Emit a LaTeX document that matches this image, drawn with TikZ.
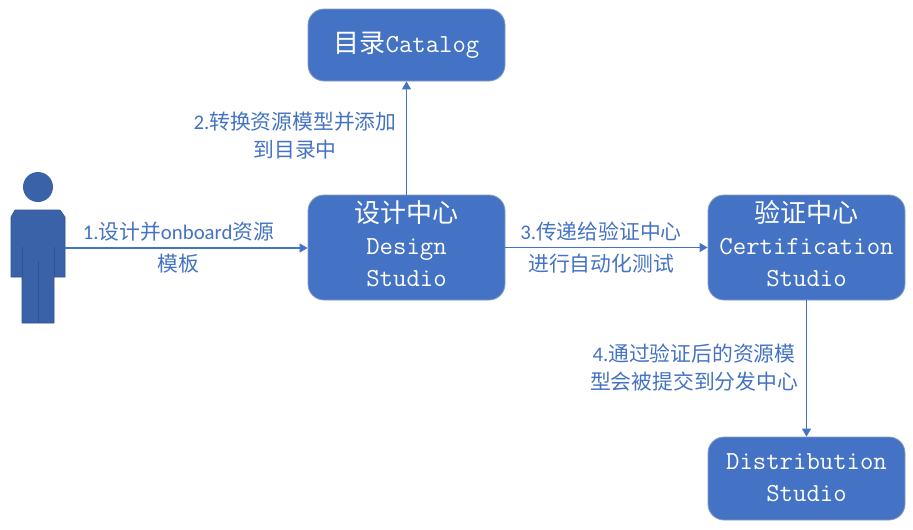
\documentclass[tikz,border=0pt]{standalone}
\usepackage{fontspec}
\setmainfont{Carlito}
\newfontfamily\cjk{Noto Sans CJK SC}
\usetikzlibrary{arrows.meta, positioning}
\definecolor{boxblue}{HTML}{4472C4}
\definecolor{userblue}{HTML}{3A62A9}
\definecolor{userline}{HTML}{2F528F}
\newcommand{\zh}[1]{{\cjk #1}}
\tikzset{
  studio/.style={draw=boxblue!45!lightgray, line width=0.8pt, fill=boxblue, rounded corners=16pt,
    minimum width=197pt, text=white, align=center,
    font=\fontsize{26}{32}\selectfont\ttfamily},
  note/.style={text=boxblue, align=center, inner sep=0pt, font=\fontsize{20.8}{28}\selectfont},
  flow/.style={-{Triangle[length=8pt,width=9pt]}, color=boxblue, line width=1.2pt},
  person/.style={fill=userblue, draw=userline, line width=0.6pt}
}
\begin{document}
\begin{tikzpicture}[x=1pt,y=-1pt]
  \useasboundingbox (0,0) rectangle (913,530);
  % the user on the left
  \draw[person] (15,210) -- (60,210) -- (65,217) -- (65,277) -- (54,277) -- (54,323)
     -- (22,323) -- (22,277) -- (11,277) -- (11,217) -- cycle;
  \draw[userline, line width=0.6pt] (22,247) -- (22,277);
  \draw[userline, line width=0.6pt] (54,247) -- (54,277);
  \draw[userline, line width=0.6pt] (38,261) -- (38,323);
  \fill[userblue] (38,187) circle (15);
  \coordinate (user) at (65,248);

  \node[studio, minimum height=72pt] (catalog) at (406.5,45) {\zh{目录}Catalog};
  \node[studio, minimum height=105pt, text depth=8pt] (design) at (406.5,247.5) {\zh{设计中心}\\Design\\Studio};
  \node[studio, minimum height=105pt, text depth=8pt] (cert) at (806.5,247.5) {\zh{验证中心}\\Certification\\Studio};
  \node[studio, minimum height=83pt, text depth=2pt] (dist) at (806.5,478.5) {Distribution\\Studio};

  \draw[flow] (user) -- (design.west |- user);
  \draw[flow] (design.north) -- (catalog.south);
  \draw[flow] (design.east) -- (cert.west);
  \draw[flow] (cert.south) -- (dist.north);

  \node[note, font=\fontsize{20.8}{32}\selectfont] (step1) at (178.5,248) {1.\zh{设计并}onboard\zh{资源}\\\zh{模板}};
  \node[note] (step2) at (295,136) {2.\zh{转换资源模型并添加}\\\zh{到目录中}};
  \node[note, font=\fontsize{20.8}{32}\selectfont] (step3) at (601,248) {3.\zh{传递给验证中心}\\\zh{进行自动化测试}};
  \node[note] (step4) at (694,368) {4.\zh{通过验证后的资源模}\\\zh{型会被提交到分发中心}};
\end{tikzpicture}
\end{document}
